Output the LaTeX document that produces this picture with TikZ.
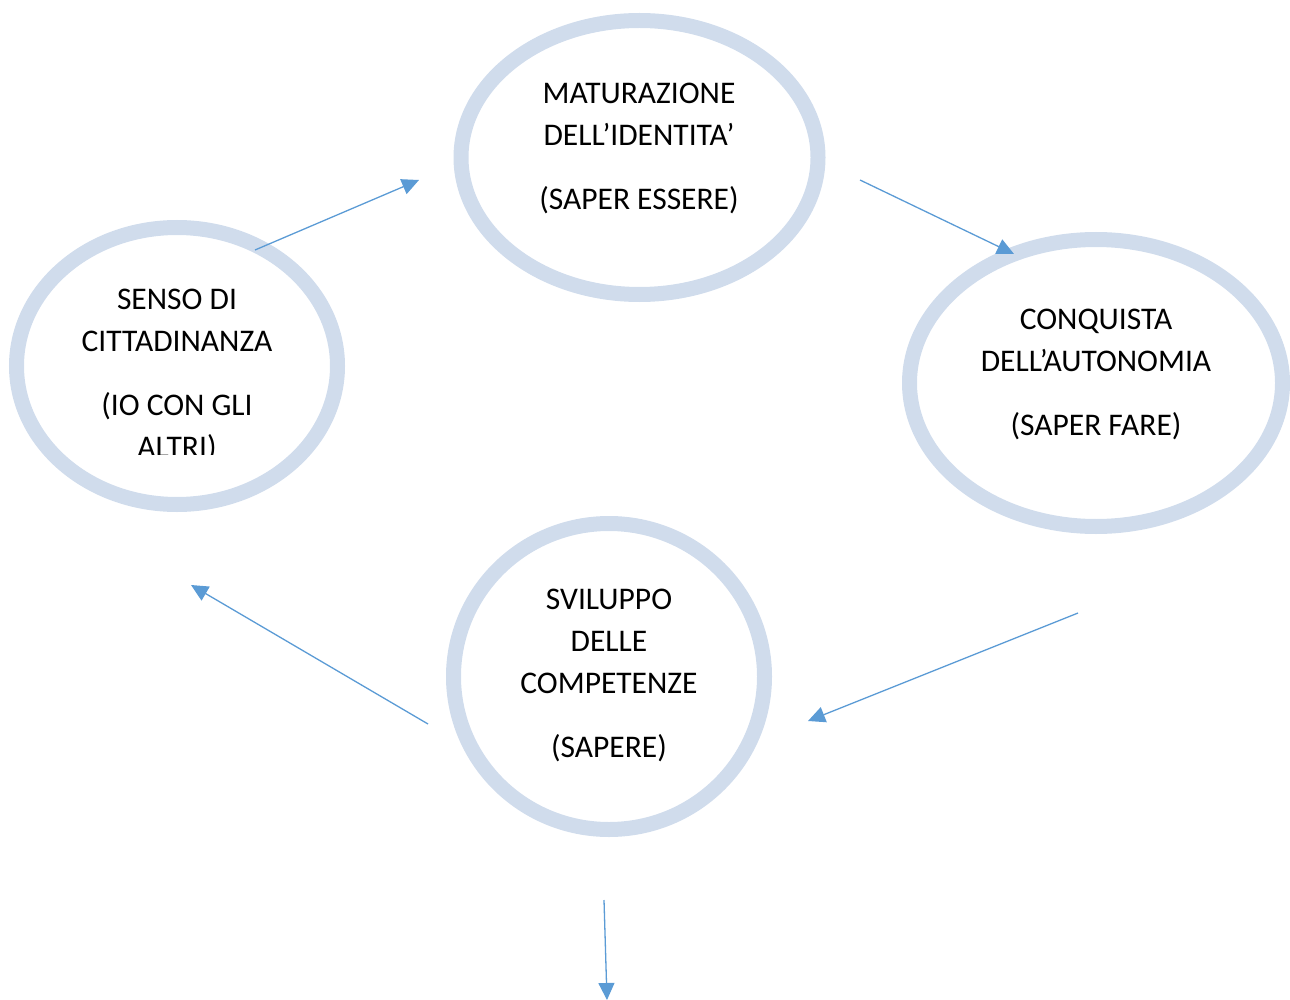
\documentclass[tikz,border=0pt]{standalone}
\usepackage{fontspec}
\setmainfont{Carlito}
\usetikzlibrary{shapes.geometric,arrows.meta}
\definecolor{ringblue}{HTML}{D0DCEC}
\definecolor{arrblue}{HTML}{5B9BD5}
\tikzset{
  ring/.style={ellipse,draw=ringblue,line width=15pt,inner sep=0pt},
  txt/.style={align=center,font=\fontsize{31.5}{42}\selectfont},
  arr/.style={draw=arrblue,line width=1.3pt,-{Triangle[length=17pt,width=16pt]}}
}
\begin{document}
\begin{tikzpicture}[x=1pt,y=-1pt]
      \path[use as bounding box] (0,0) rectangle (1290,1000);
      \node[ring,minimum width=357pt,minimum height=274pt] at (639.5,157.5) (me) {};
      \node[ring,minimum width=321pt,minimum height=277pt] at (177,366) (se) {};
      \node[ring,minimum width=373pt,minimum height=287pt] at (1096,383) (ce) {};
      \node[ring,minimum width=311pt,minimum height=306pt] at (609,676.5) (sv) {};
      \node[txt] at (639,148) (mt) {MATURAZIONE\\DELL’IDENTITA’\\[22pt](SAPER ESSERE)};
      \node[txt] at (1096,374) (ct) {CONQUISTA\\DELL’AUTONOMIA\\[22pt](SAPER FARE)};
      \node[txt] at (609,675) (svt) {SVILUPPO\\DELLE\\COMPETENZE\\[22pt](SAPERE)};
      \begin{scope}
        \clip (0,0) rectangle (400,454);
        \node[txt] at (177,375) (st) {SENSO DI\\CITTADINANZA\\[22pt](IO CON GLI\\ALTRI)};
      \end{scope}
      \coordinate (a1) at (255,250);  \coordinate (b1) at (419,180);
      \coordinate (a2) at (860,180);  \coordinate (b2) at (1014,254);
      \coordinate (a3) at (1078,613); \coordinate (b3) at (808,721);
      \coordinate (a4) at (428,724);  \coordinate (b4) at (191,585);
      \coordinate (a5) at (604,900);  \coordinate (b5) at (607,1000);
      \path[arr] (a1) -- (b1);
      \path[arr] (a2) -- (b2);
      \path[arr] (a3) -- (b3);
      \path[arr] (a4) -- (b4);
      \path[arr] (a5) -- (b5);
    \end{tikzpicture}
\end{document}
